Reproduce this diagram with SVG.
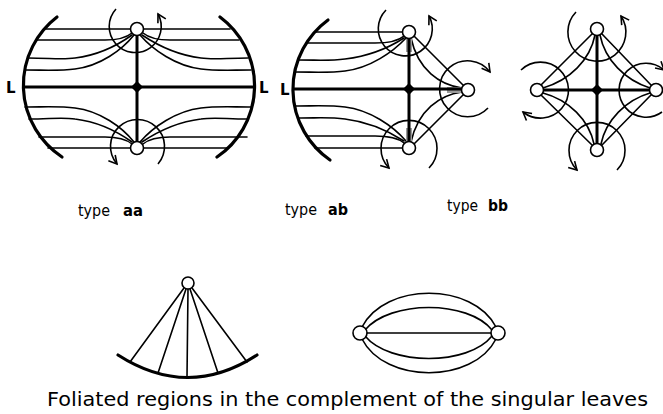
<svg xmlns="http://www.w3.org/2000/svg" width="663" height="414" viewBox="0 0 663 414">
<defs>
<marker id="arr" viewBox="-9 -6 11 12" markerWidth="11" markerHeight="12" refX="0" refY="0" orient="auto" markerUnits="userSpaceOnUse">
<path d="M-8,-4.5 L0,0 L-8,4.5" fill="none" stroke="#000" stroke-width="1.6"/>
</marker>
</defs>
<style>
.thin{fill:none;stroke:#000;stroke-width:1.6;stroke-linecap:round}
.bound{fill:none;stroke:#000;stroke-width:3.2;stroke-linecap:round}
.axis{fill:none;stroke:#000;stroke-width:3}
.loop{fill:none;stroke:#000;stroke-width:1.6;marker-end:url(#arr)}
.loopn{fill:none;stroke:#000;stroke-width:1.6}
.gray{fill:none;stroke:#9a9a9a;stroke-width:6}
.node{fill:#fff;stroke:#000;stroke-width:1.6}
.dia{fill:#000}
.lbl{font-family:"DejaVu Sans","Liberation Sans",sans-serif;font-size:16px;fill:#000}
.b{font-weight:bold}
.L{font-family:"DejaVu Sans","Liberation Sans",sans-serif;font-size:15px;font-weight:bold;fill:#000}
.cap{font-family:"DejaVu Sans","Liberation Sans",sans-serif;font-size:19px;fill:#000}
</style>

<g id="connectors">
<!-- type aa -->
<path class="bound" d="M57,17 A86,86 0 0 0 62,157"/>
<path class="bound" d="M220,17 A86,86 0 0 1 217,157"/>
<path class="thin" d="M46,29 H230"/>
<path class="thin" d="M37,40 H105 C118,40 126,38 132,33"/>
<path class="thin" d="M28,58 C50,58 62,60 75,58 C100,55 118,45 132,35"/>
<path class="thin" d="M25,70 C45,70 60,71 75,69 C100,66 122,50 134,35"/>
<path class="thin" d="M239,40 H170 C157,40 149,38 143,33"/>
<path class="thin" d="M248,58 C226,58 214,60 201,58 C176,55 157,45 142,35"/>
<path class="thin" d="M251,70 C231,70 216,71 201,69 C176,66 153,50 140,35"/>
<path class="thin" d="M48,148 H228"/>
<path class="thin" d="M39,137 H105 C118,137 126,139 132,144"/>
<path class="thin" d="M29,119 C50,119 62,117 75,119 C100,122 118,132 132,142"/>
<path class="thin" d="M25,107 C45,107 60,106 75,108 C100,111 122,127 134,142"/>
<path class="thin" d="M247,137 H170 C157,137 149,139 143,144"/>
<path class="thin" d="M247,119 C226,119 214,117 201,119 C176,122 157,132 142,142"/>
<path class="thin" d="M251,107 C231,107 216,106 201,108 C176,111 153,127 140,142"/>
<path class="axis" d="M23,87 H253"/>
<path class="axis" d="M137,35 V142"/>
<path class="loop" d="M116,9 A26,26 0 1 0 158,14"/>
<path class="loop" d="M158,164 A27,27 0 1 0 117,164"/>

<!-- type ab -->
<path class="bound" d="M328,20 A86,86 0 0 0 330,160"/>
<path class="thin" d="M315,32 H403"/>
<path class="thin" d="M306,43 H375 C390,43 398,41 404,36"/>
<path class="thin" d="M298,60 C320,60 330,61 345,59 C370,56 390,47 404,38"/>
<path class="thin" d="M295,72 C315,72 330,73 345,71 C370,68 393,52 406,38"/>
<path class="thin" d="M315,148 H403"/>
<path class="thin" d="M306,136 H375 C390,136 398,138 404,143"/>
<path class="thin" d="M298,118 C320,118 330,117 345,119 C370,122 390,132 404,141"/>
<path class="thin" d="M295,106 C315,106 330,105 345,107 C370,110 393,126 406,141"/>
<path class="thin" d="M414,36 L463,85"/>
<path class="thin" d="M414,144 L463,95"/>
<path class="thin" d="M411,38 C418,70 440,85 462,88"/>
<path class="thin" d="M411,142 C418,110 440,95 462,92"/>
<path class="gray" d="M409,38 V52 M409,128 V142 M447,90 H462"/>
<path class="axis" d="M293,89 H462"/>
<path class="axis" d="M409,38 V142"/>
<path class="loop" d="M386,10 A27,27 0 1 0 429,16"/>
<path class="loop" d="M488,108 A28,28 0 1 1 490,72"/>
<path class="loop" d="M429,168 A28,28 0 1 0 389,168"/>

<!-- type bb -->
<path class="thin" d="M592,34 L541,85"/>
<path class="thin" d="M602,34 L651,85"/>
<path class="thin" d="M592,145 L541,95"/>
<path class="thin" d="M602,145 L651,95"/>
<path class="thin" d="M595,35 C590,60 570,80 543,88"/>
<path class="thin" d="M600,35 C605,60 625,80 650,88"/>
<path class="thin" d="M594,144 C589,120 569,100 543,93"/>
<path class="thin" d="M601,144 C606,120 626,100 650,93"/>
<path class="axis" d="M543,90 H650"/>
<path class="axis" d="M597,35 V144"/>
<path class="loop" d="M576,12 A29,29 0 1 0 621,16"/>
<path class="loop" d="M521,70 A28,28 0 1 1 523,112"/>
<path class="loop" d="M662,112 A27,27 0 1 1 664,70"/>
<path class="loop" d="M617,170 A28,28 0 1 0 577,170"/>

<!-- fan -->
<path class="bound" d="M118,355 Q188,400 257,355"/>
<path class="thin" d="M184,288 L130,362 M186,289 L158,373 M188,289 L187,377 M190,289 L218,373 M192,288 L247,362"/>

<!-- lens -->
<path class="thin" d="M362,327 C385,282 473,282 496,327"/>
<path class="thin" d="M365,330 C390,300 468,300 492,330"/>
<path class="thin" d="M367,333 H491"/>
<path class="thin" d="M365,336 C390,366 468,366 492,336"/>
<path class="thin" d="M362,339 C385,384 473,384 496,339"/>
</g>

<g id="aa-top"><circle class="node" cx="137" cy="29" r="6.5"/></g>
<g id="aa-bottom"><circle class="node" cx="137" cy="148" r="6.5"/></g>
<g id="aa-center"><path class="dia" d="M137,81 L143,87 L137,93 L131,87 Z"/></g>
<g id="ab-top"><circle class="node" cx="409" cy="32" r="6.5"/></g>
<g id="ab-bottom"><circle class="node" cx="409" cy="148" r="6.5"/></g>
<g id="ab-right"><circle class="node" cx="468" cy="90" r="6.5"/></g>
<g id="ab-center"><path class="dia" d="M409,83 L415,89 L409,95 L403,89 Z"/></g>
<g id="bb-top"><circle class="node" cx="597" cy="29" r="6.5"/></g>
<g id="bb-bottom"><circle class="node" cx="597" cy="150" r="6.5"/></g>
<g id="bb-left"><circle class="node" cx="537" cy="90" r="6.5"/></g>
<g id="bb-right"><circle class="node" cx="656" cy="90" r="6.5"/></g>
<g id="bb-center"><path class="dia" d="M597,84 L603,90 L597,96 L591,90 Z"/></g>
<g id="fan-node"><circle class="node" cx="188" cy="283" r="6"/></g>
<g id="lens-left"><circle class="node" cx="360" cy="333" r="7"/></g>
<g id="lens-right"><circle class="node" cx="498" cy="333" r="7"/></g>

<g id="labels">
<text class="L" x="6" y="93">L</text>
<text class="L" x="259" y="93">L</text>
<text class="L" x="280" y="95">L</text>
<text class="lbl" y="216"><tspan x="78" textLength="32" lengthAdjust="spacingAndGlyphs">type</tspan><tspan class="b" x="123" textLength="20" lengthAdjust="spacingAndGlyphs">aa</tspan></text>
<text class="lbl" y="215"><tspan x="285" textLength="32" lengthAdjust="spacingAndGlyphs">type</tspan><tspan class="b" x="328" textLength="20" lengthAdjust="spacingAndGlyphs">ab</tspan></text>
<text class="lbl" y="211"><tspan x="447" textLength="31" lengthAdjust="spacingAndGlyphs">type</tspan><tspan class="b" x="488" textLength="20" lengthAdjust="spacingAndGlyphs">bb</tspan></text>
<text class="cap" x="47" y="406" textLength="601" lengthAdjust="spacingAndGlyphs">Foliated regions in the complement of the singular leaves</text>
</g>
</svg>
